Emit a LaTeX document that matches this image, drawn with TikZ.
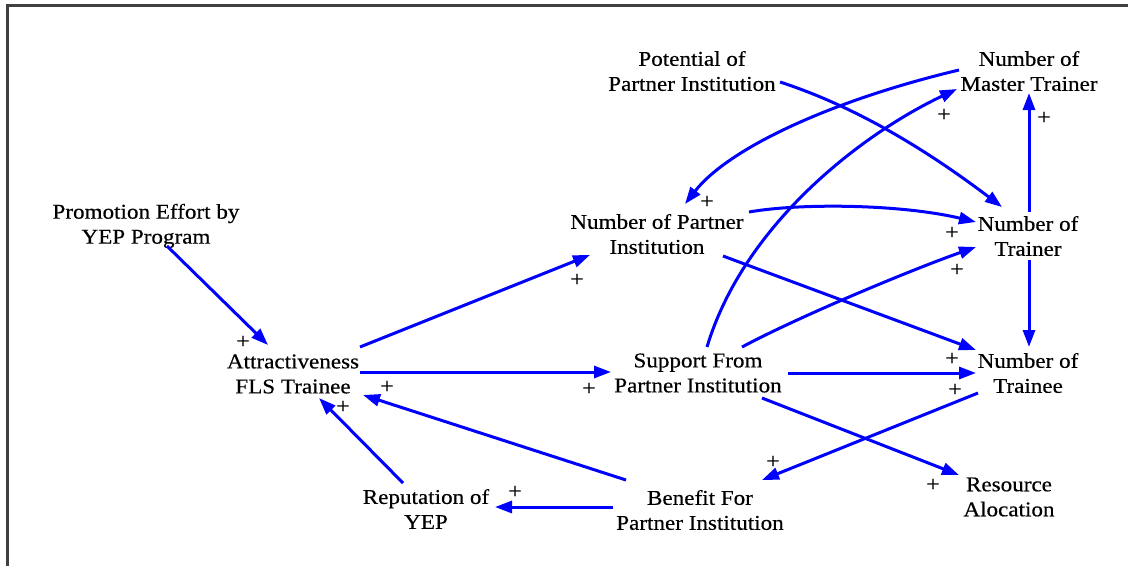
\documentclass[tikz,border=0pt]{standalone}
\usepackage{fontspec}
\setmainfont{Liberation Serif}[FakeStretch=1.1,FakeBold=0.4]
\usetikzlibrary{arrows.meta,calc}
\definecolor{linkblue}{RGB}{0,0,255}
\definecolor{framegray}{RGB}{64,64,64}
\begin{document}
\begin{tikzpicture}[x=1pt,y=-1pt,
  lbl/.style={align=center,inner sep=0pt,font=\fontsize{21}{25}\selectfont},
  pl/.style={inner sep=0pt,font=\fontsize{22}{22}\selectfont},
  link/.style={draw=linkblue,line width=3pt,-{Triangle[length=17pt,width=12pt]}},
  framebox/.style={draw=framegray,line width=3pt}]
\useasboundingbox (0,0) rectangle (1128,566);
\draw[framebox] (7,566) -- (7,5) -- (1128,5);

% variables
\node[lbl] (prom) at (146,226) {Promotion Effort by\\YEP Program};
\node[lbl] (attr) at (293,374) {Attractiveness\\FLS Trainee};
\node[lbl] (rep)  at (426,509) {Reputation of\\YEP};
\node[lbl] (npi)  at (657,234) {Number of Partner\\Institution};
\node[lbl] (sup)  at (698,373) {Support From\\Partner Institution};
\node[lbl] (pot)  at (692,71)  {Potential of\\Partner Institution};
\node[lbl] (mas)  at (1029,71) {Number of\\Master Trainer};
\node[lbl] (trr)  at (1028,236) {Number of\\Trainer};
\node[lbl] (tre)  at (1028,373) {Number of\\Trainee};
\node[lbl] (ben)  at (700,510) {Benefit For\\Partner Institution};
\node[lbl] (res)  at (1009,497) {Resource\\Alocation};

% links
\draw[link] ($(prom)+(21,20)$) -- ($(attr)+(-25,-29)$);
\draw[link] ($(attr)+(67,-27)$) -- ($(npi)+(-67,21)$);
\draw[link] ($(attr)+(67,-2)$) -- ($(sup)+(-87,-1)$);
\draw[link] ($(ben)+(-74,-30)$) -- ($(attr)+(70,21)$);
\draw[link] ($(rep)+(-23,-26)$) -- ($(attr)+(26,24)$);
\draw[link] ($(ben)+(-87,-3)$) -- ($(rep)+(69,-2)$);
\draw[link] ($(mas)+(-70,-1)$) .. controls (829,101) and (728,149) .. ($(npi)+(28,-30)$);
\draw[link] ($(sup)+(9,-26)$) .. controls (743,227) and (858,136) .. ($(mas)+(-72,18)$);
\draw[link] ($(trr)+(1,-24)$) -- ($(mas)+(0,22)$);
\draw[link] ($(trr)+(1,24)$) -- ($(tre)+(1,-26)$);
\draw[link] ($(pot)+(88,11)$) .. controls (860,108) and (932,154) .. ($(trr)+(-26,-29)$);
\draw[link] ($(npi)+(92,-22)$) .. controls (800,203) and (900,204) .. ($(trr)+(-52,-14)$);
\draw[link] ($(sup)+(44,-26)$) .. controls (802,315) and (916,268) .. ($(trr)+(-52,11)$);
\draw[link] ($(npi)+(66,22)$) -- ($(tre)+(-52,-23)$);
\draw[link] ($(sup)+(90,0)$) -- ($(tre)+(-52,0)$);
\draw[link] ($(sup)+(64,25)$) -- ($(res)+(-50,-22)$);
\draw[link] ($(tre)+(-50,20)$) -- ($(ben)+(62,-30)$);

% polarity signs
\node[pl] (p1)  at (243,342) {+};
\node[pl] (p2)  at (577,280) {+};
\node[pl] (p3)  at (589,389) {+};
\node[pl] (p4)  at (387,387) {+};
\node[pl] (p5)  at (343,407) {+};
\node[pl] (p6)  at (515,492) {+};
\node[pl] (p7)  at (707,202) {+};
\node[pl] (p8)  at (944,115) {+};
\node[pl] (p9)  at (1044,118) {+};
\node[pl] (p10) at (952,233) {+};
\node[pl] (p11) at (957,270) {+};
\node[pl] (p12) at (952,359) {+};
\node[pl] (p13) at (955,390) {+};
\node[pl] (p14) at (933,485) {+};
\node[pl] (p15) at (773,462) {+};
\end{tikzpicture}
\end{document}
